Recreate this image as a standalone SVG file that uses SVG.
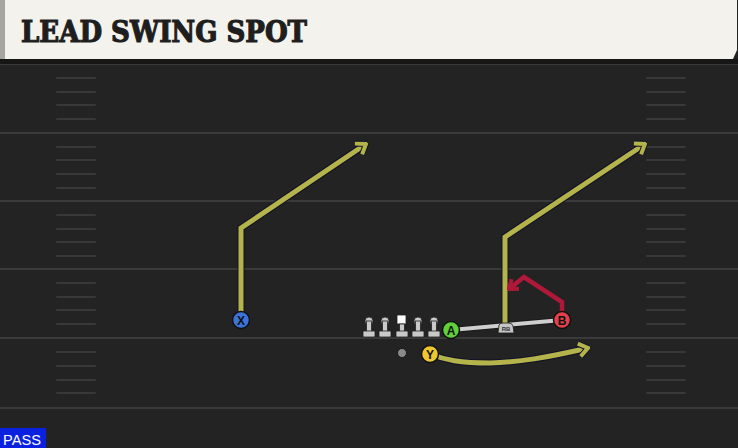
<svg xmlns="http://www.w3.org/2000/svg" width="738" height="448" viewBox="0 0 738 448">
<style>
.yl{stroke:#3a3a3a;stroke-width:2;fill:none}
.hm{stroke:#383838;stroke-width:2;fill:none;stroke-linecap:round}
.rt-o{fill:none;stroke:#12122a;stroke-width:7;stroke-linejoin:miter}
.rt-y{fill:none;stroke:#b4b44a;stroke-width:5;stroke-linejoin:miter}
.rt-r{fill:none;stroke:#b0183a;stroke-width:4.5;stroke-linejoin:miter}
.pl{stroke:#111;stroke-width:1.5}
.lbl{font-family:"Liberation Sans",Arial,sans-serif;font-weight:bold;font-size:12px;fill:#111;text-anchor:middle}
.ol{fill:#c9c9c9;stroke:#222;stroke-width:0.8}
</style>
<defs>
<marker id="ay" viewBox="-12 -9 14 18" refX="0" refY="0" markerWidth="14" markerHeight="18" markerUnits="userSpaceOnUse" orient="auto">
<path d="M-9,-6.5 L0,0 L-9,6.5" fill="none" stroke="#12122a" stroke-width="6" stroke-linejoin="miter"/>
<path d="M-9,-6.5 L0,0 L-9,6.5" fill="none" stroke="#b4b44a" stroke-width="4" stroke-linejoin="miter"/>
</marker>
<marker id="ar" viewBox="-12 -9 14 18" refX="0" refY="0" markerWidth="14" markerHeight="18" markerUnits="userSpaceOnUse" orient="auto">
<path d="M-8,-6 L0,0 L-8,6" fill="none" stroke="#b0183a" stroke-width="4" stroke-linejoin="miter"/>
</marker>
</defs>
<rect x="0" y="0" width="738" height="448" fill="#232323"/>
<g id="field">
<line class="yl" x1="0" y1="64" x2="738" y2="64"/>
<line class="yl" x1="0" y1="133" x2="738" y2="133"/>
<line class="yl" x1="0" y1="201" x2="738" y2="201"/>
<line class="yl" x1="0" y1="269" x2="738" y2="269"/>
<line class="yl" x1="0" y1="338" x2="738" y2="338"/>
<line class="yl" x1="0" y1="408" x2="738" y2="408"/>
<g id="hash-left">
<path class="hm" d="M57,78H95M57,92H95M57,105H95M57,119H95M57,147H95M57,160H95M57,174H95M57,188H95M57,215H95M57,229H95M57,242H95M57,256H95M57,283H95M57,297H95M57,310H95M57,324H95M57,352H95M57,366H95M57,380H95M57,393H95"/>
</g>
<g id="hash-right">
<path class="hm" d="M647,78H685M647,92H685M647,105H685M647,119H685M647,147H685M647,160H685M647,174H685M647,188H685M647,215H685M647,229H685M647,242H685M647,256H685M647,283H685M647,297H685M647,310H685M647,324H685M647,352H685M647,366H685M647,380H685M647,393H685"/>
</g>
</g>
<g id="header">
<rect x="0" y="59" width="738" height="5" fill="#161616"/>
<polygon points="0,0 737,0 737,50 733,59 0,59" fill="#f4f2ec"/>
<rect x="0" y="0" width="5" height="59" fill="#a6a6a0"/>
<text x="21" y="42" font-family="'DejaVu Serif',serif" font-weight="bold" font-size="29" fill="#1e1e1e" stroke="#1e1e1e" stroke-width="1.2" textLength="286" lengthAdjust="spacingAndGlyphs">LEAD SWING SPOT</text>
</g>
<g id="connectors">
<line x1="451" y1="330" x2="562" y2="320" stroke="#1a1a1a" stroke-width="6"/>
<line x1="451" y1="330" x2="562" y2="320" stroke="#cfcfcf" stroke-width="4"/>
<path class="rt-o" d="M241,320 V228 L366,144"/>
<path class="rt-y" d="M241,320 V228 L366,144" marker-end="url(#ay)"/>
<path class="rt-o" d="M505,326 V237 L645,144"/>
<path class="rt-y" d="M505,326 V237 L645,144" marker-end="url(#ay)"/>
<path class="rt-r" d="M562,318 V302 L524,277 L509,289" marker-end="url(#ar)"/>
<path class="rt-o" d="M430,354 C445,360 460,363 490,363 C520,362 545,358 588,348"/>
<path class="rt-y" d="M430,354 C445,360 460,363 490,363 C520,362 545,358 588,348" marker-end="url(#ay)"/>
</g>
<g id="line-OL">
<g><circle class="ol" cx="369" cy="321" r="4"/><rect class="ol" x="366.5" y="321" width="5" height="12"/><rect class="ol" x="363" y="331" width="12" height="6" rx="1"/></g>
<g><circle class="ol" cx="385" cy="321" r="4"/><rect class="ol" x="382.5" y="321" width="5" height="12"/><rect class="ol" x="379" y="331" width="12" height="6" rx="1"/></g>
<g><rect x="397" y="315" width="9" height="9" fill="#fff" stroke="#222" stroke-width="0.8"/><rect class="ol" x="399.5" y="324" width="5" height="9"/><rect class="ol" x="396" y="331" width="12" height="6" rx="1"/></g>
<g><circle class="ol" cx="418" cy="321" r="4"/><rect class="ol" x="415.5" y="321" width="5" height="12"/><rect class="ol" x="412" y="331" width="12" height="6" rx="1"/></g>
<g><circle class="ol" cx="434" cy="321" r="4"/><rect class="ol" x="431.5" y="321" width="5" height="12"/><rect class="ol" x="428" y="331" width="12" height="6" rx="1"/></g>
</g>
<g id="ball"><circle cx="402" cy="353" r="4.5" fill="#8a8a8a" stroke="#1a1a1a" stroke-width="1"/></g>
<g id="rb"><path d="M498,333 L499,325 Q500,323 503,323 L509,323 Q512,323 513,326 L514,333 Z" fill="#c4c4c4" stroke="#1a1a1a" stroke-width="0.8"/><text x="506" y="331" font-family="'Liberation Sans',sans-serif" font-weight="bold" font-size="6" fill="#333" text-anchor="middle">RB</text></g>
<g id="X"><circle class="pl" cx="241" cy="320" r="8.5" fill="#3b73d8"/><text class="lbl" x="241" y="324.5">X</text></g>
<g id="A"><circle class="pl" cx="451" cy="330" r="8.5" fill="#5fcf3a"/><text class="lbl" x="451" y="334.5">A</text></g>
<g id="B"><circle class="pl" cx="562" cy="320" r="8.5" fill="#e2404b"/><text class="lbl" x="562" y="324.5">B</text></g>
<g id="Y"><circle class="pl" cx="430" cy="354" r="8.5" fill="#f0c630"/><text class="lbl" x="430" y="358.5">Y</text></g>
<g id="pass"><rect x="0" y="428" width="46" height="20" fill="#0a22e0"/><text x="3" y="444.5" font-family="'Liberation Sans',Arial,sans-serif" font-size="15" fill="#fff" textLength="38" lengthAdjust="spacingAndGlyphs">PASS</text></g>
</svg>
